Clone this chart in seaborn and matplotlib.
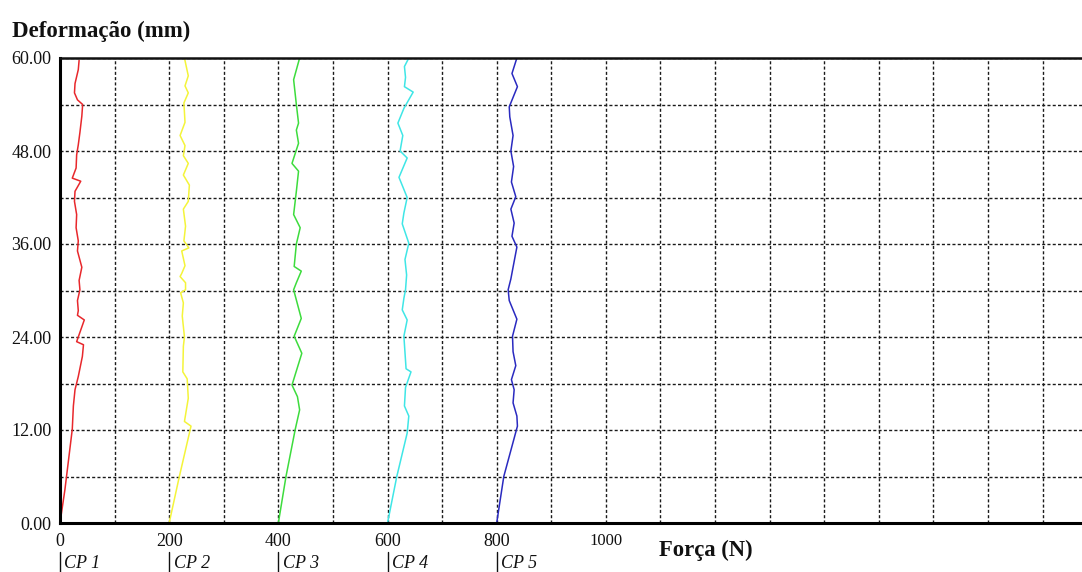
import numpy as np
import pandas as pd
import matplotlib
matplotlib.use("Agg")
import matplotlib.pyplot as plt
import matplotlib.transforms as mtransforms
import seaborn as sns

# ---- data ----
cp_names = ["CP 1", "CP 2", "CP 3", "CP 4", "CP 5"]
cp_offsets = [0, 200, 400, 600, 800]
cp_colors = ["#e8282c", "#f4f43a", "#3ddc3d", "#3fe6e6", "#2a2ac0"]

cp1_def = [0, 4.3, 9.5, 12.1, 15.1, 17.2, 18.9, 21.5, 23.0, 23.4, 26.2, 26.8, 27.4, 28.7, 30.1, 31.3, 33.0,
           35.1, 36.4, 38.1, 39.8, 41.5, 42.8, 44.1, 44.5, 45.8, 47.5, 48.8, 50.4, 52.5, 54.0, 54.6, 55.5,
           56.7, 58.5, 59.7]
cp1_force = [0, 9, 18, 22.5, 24.5, 27.5, 33.5, 41, 43, 30.5, 44.5, 32, 33.5, 32, 36.5, 35, 40,
             32, 33.5, 29.5, 30.5, 26.5, 27.5, 38, 22.5, 29.5, 30.5, 33.5, 36.5, 40, 41.5, 32, 26.5,
             27.5, 33.5, 35]

cp2_def = [0, 5.8, 12.5, 13.1, 16.1, 18.6, 19.5, 22.8, 24.0, 26.7, 28.4, 29.7, 30.1, 31.0, 31.8, 32.2,
           33.2, 35.1, 35.5, 36.4, 38.3, 40.5, 41.5, 43.6, 44.9, 46.4, 47.4, 48.7, 50.0, 51.7, 54.2,
           55.5, 56.4, 57.7, 60]
cp2_force = [200, 218, 240, 228, 235, 233, 225, 226, 228, 224, 226, 221, 230, 230, 220, 223,
             229, 223, 236, 227, 230, 226, 235, 237, 226, 235, 226, 229, 220, 229, 227,
             235, 229, 235, 228]

cp3_def = [0, 6, 12.1, 14.6, 16.3, 17.8, 21.9, 24.1, 26.4, 30.1, 31.0, 32.5, 33.1, 36, 38.1, 39.8,
           42.8, 45.4, 46.4, 49, 50.7, 51.6, 54, 57.2, 60]
cp3_force = [400, 414, 431, 439, 435, 425, 443, 429, 442, 428, 433, 442, 429, 433, 440, 428,
             433, 437, 425, 437, 433, 437, 433, 428, 439]

cp4_def = [0, 6, 11.6, 13.8, 15.1, 17.5, 19.5, 19.9, 22, 24.1, 26.2, 27.5, 29, 30.1, 32, 34, 36.1,
           38.6, 40, 42, 44.6, 47.1, 48, 50, 51.6, 53.5, 55.6, 56.3, 57.5, 58.9, 60]
cp4_force = [600, 617, 636, 639, 631, 633, 643, 634, 632, 630, 636, 627, 630, 633, 635, 632, 639,
             627, 630, 636, 621, 636, 623, 628, 619, 630, 647, 631, 633, 631, 639]

cp5_def = [0, 6, 12.5, 13.8, 15.5, 17.2, 18.5, 20.3, 22.1, 24.1, 26.3, 28.7, 30.1, 31.5, 33, 35.6,
           37, 38.7, 40.5, 42.1, 44, 46, 48, 50, 52.4, 53.7, 56.3, 58, 60]
cp5_force = [800, 813, 838, 837, 830, 832, 827, 835, 830, 829, 837, 823, 821, 826, 830, 837,
             828, 832, 826, 835, 827, 831, 826, 830, 824, 823, 838, 828, 837]

x_tick_labels = ["0", "200", "400", "600", "800", "1000"]
y_tick_values = [0, 12, 24, 36, 48, 60]

# ---- build table ----
frames = []
for name, d, f in zip(cp_names,
                      [cp1_def, cp2_def, cp3_def, cp4_def, cp5_def],
                      [cp1_force, cp2_force, cp3_force, cp4_force, cp5_force]):
    frames.append(pd.DataFrame({"Força": f, "Deformação": d, "CP": name}))
df = pd.concat(frames, ignore_index=True)

sns.set_theme(style="white")
plt.rcParams["font.family"] = ["Liberation Serif", "DejaVu Serif"]

fig = plt.figure(figsize=(10.82, 5.72), dpi=100)
ax = fig.add_axes([60 / 1082, (572 - 523) / 572, 1 - 60 / 1082 + 0.02, (523 - 58) / 572])

sns.lineplot(data=df, x="Força", y="Deformação", hue="CP", palette=cp_colors,
             sort=False, estimator=None, legend=False, linewidth=1.1, ax=ax)

ax.set_xlim(0, (1082 - 60) / 0.545 + 20 / 0.545)
ax.set_ylim(0, 60)

# grid
ax.set_xticks(np.arange(0, 2000, 100))
ax.set_yticks(np.arange(0, 61, 6))
ax.grid(True, which="major", color="#1a1a1a", linestyle=(0, (2.2, 1.6)), linewidth=1.0)
ax.set_axisbelow(True)

xl = []
for v in np.arange(0, 2000, 100):
    s = str(int(v))
    xl.append(s if s in x_tick_labels else "")
ax.set_xticklabels(xl)
yl = [f"{v:.2f}" if v in y_tick_values else "" for v in np.arange(0, 61, 6)]
ax.set_yticklabels(yl)
ax.tick_params(axis="both", length=0, labelsize=13, colors="#111111")
ax.tick_params(axis="x", pad=7)
ax.tick_params(axis="y", pad=6)
for lab in ax.get_xticklabels():
    if lab.get_text() == "1000":
        lab.set_fontsize(12)

ax.set_xlabel("")
ax.set_ylabel("")
for side in ["left", "bottom"]:
    ax.spines[side].set_linewidth(2.2)
    ax.spines[side].set_color("black")
ax.spines["top"].set_linewidth(1.8)
ax.spines["top"].set_color("#111111")
ax.spines["right"].set_visible(False)

# CP markers under the axis
trans = mtransforms.blended_transform_factory(ax.transData, fig.transFigure)
for name, off in zip(cp_names, cp_offsets):
    ax.plot([off, off], [1 - 552 / 572, 0.0], color="#111111", linewidth=1.0,
            transform=trans, clip_on=False)
    ax.text(off + 8, 1 - 563 / 572, name, transform=trans, ha="left", va="center",
            fontsize=13, style="italic", color="#111111")

fig.text(12 / 1082, 1 - 37 / 572, "Deformação (mm)", fontsize=16.5, fontweight="bold",
         ha="left", va="baseline", color="#111111")
fig.text(659 / 1082, 1 - 556 / 572, "Força (N)", fontsize=16.3, fontweight="bold",
         ha="left", va="baseline", color="#111111")

fig.savefig("out.png", dpi=100)
